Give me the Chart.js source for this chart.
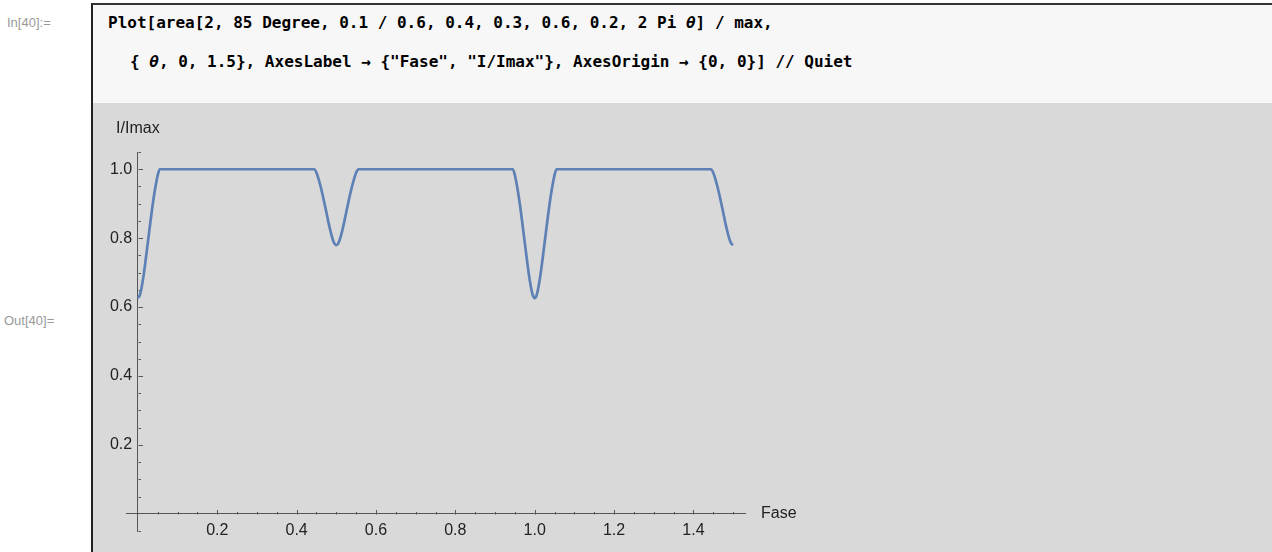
<!DOCTYPE html>
<html><head><meta charset="utf-8">
<script src="https://cdn.jsdelivr.net/npm/chart.js@4.4.1/dist/chart.umd.min.js"></script>
<style>
html,body{margin:0;padding:0;background:#fff;width:1272px;height:552px;overflow:hidden;position:relative;font-family:"Liberation Sans",Arial,sans-serif}
.lbl{position:absolute;color:#999;font-size:13px;line-height:16px;font-family:"Liberation Sans",Arial,sans-serif;white-space:pre}
#incell{position:absolute;left:91px;top:3px;width:1181px;height:100px;background:#f7f7f7;border-top:2px solid #333;border-left:2px solid #222;box-sizing:border-box}
#outcell{position:absolute;left:91px;top:103px;width:1181px;height:449px;background:#d9d9d9;border-left:2px solid #222;box-sizing:border-box}
.code{position:absolute;white-space:pre;font-family:"DejaVu Sans Mono",monospace;font-weight:bold;font-size:16px;line-height:20px;color:#000}
canvas{position:absolute;left:0;top:0}
</style></head>
<body>
<div class="lbl" style="left:7px;top:15px">In[40]:=</div>
<div id="incell"></div>
<div id="outcell"></div>
<div class="lbl" style="left:4px;top:313px">Out[40]=</div>
<div class="code" style="left:108px;top:13px">Plot[area[2, 85 Degree, 0.1 / 0.6, 0.4, 0.3, 0.6, 0.2, 2 Pi <i>θ</i>] / max,</div>
<div class="code" style="left:130px;top:52px">{ <i>θ</i>, 0, 1.5}, AxesLabel → {"Fase", "I/Imax"}, AxesOrigin → {0, 0}] // Quiet</div>
<canvas id="c" width="1272" height="552"></canvas>
<script>
const xTitle = "Fase";
const yTitle = "I/Imax";
const xMajor = [0.2, 0.4, 0.6, 0.8, 1.0, 1.2, 1.4];
const yMajor = [0.2, 0.4, 0.6, 0.8, 1.0];
const xMinor = [0.05, 0.1, 0.15, 0.25, 0.3, 0.35, 0.45, 0.5, 0.55, 0.65, 0.7, 0.75, 0.85, 0.9, 0.95, 1.05, 1.1, 1.15, 1.25, 1.3, 1.35, 1.45, 1.5];
const yMinor = [-0.05, 0.05, 0.1, 0.15, 0.25, 0.3, 0.35, 0.45, 0.5, 0.55, 0.65, 0.7, 0.75, 0.85, 0.9, 0.95, 1.05];

const phase = [
  0, 0.005, 0.01, 0.015, 0.02, 0.025, 0.03, 0.035, 0.04, 0.045, 0.05, 0.055, 0.057,
  0.443, 0.445, 0.45, 0.455, 0.46, 0.465, 0.47, 0.475, 0.48, 0.485, 0.49, 0.495, 0.5,
  0.505, 0.51, 0.515, 0.52, 0.525, 0.53, 0.535, 0.54, 0.545, 0.55, 0.555, 0.557,
  0.943, 0.945, 0.95, 0.955, 0.96, 0.965, 0.97, 0.975, 0.98, 0.985, 0.99, 0.995, 1.0,
  1.005, 1.01, 1.015, 1.02, 1.025, 1.03, 1.035, 1.04, 1.045, 1.05, 1.055, 1.057,
  1.443, 1.445, 1.45, 1.455, 1.46, 1.465, 1.47, 1.475, 1.48, 1.485, 1.49, 1.495, 1.5
];
const intensity = [
  0.626, 0.635, 0.661, 0.697, 0.741, 0.787, 0.833, 0.878, 0.919, 0.954, 0.983, 1.0, 1.0,
  1.0, 1.0, 0.990, 0.973, 0.952, 0.928, 0.902, 0.875, 0.847, 0.822, 0.800, 0.785, 0.780,
  0.785, 0.800, 0.822, 0.847, 0.875, 0.902, 0.928, 0.952, 0.973, 0.990, 1.0, 1.0,
  1.0, 1.0, 0.983, 0.954, 0.919, 0.878, 0.833, 0.787, 0.741, 0.697, 0.661, 0.635, 0.626,
  0.635, 0.661, 0.697, 0.741, 0.787, 0.833, 0.878, 0.919, 0.954, 0.983, 1.0, 1.0,
  1.0, 1.0, 0.990, 0.973, 0.952, 0.928, 0.902, 0.875, 0.847, 0.822, 0.800, 0.785, 0.780
];

const FONT = '"Liberation Sans", Arial, sans-serif';
const AXIS = '#555';

const axisDecor = {
  id: 'axisDecor',
  beforeDatasetsDraw(chart) {
    const {ctx, scales: {x, y}} = chart;
    const x0 = x.getPixelForValue(0), y0 = y.getPixelForValue(0);
    ctx.save();
    ctx.strokeStyle = AXIS;
    ctx.lineWidth = 1;
    ctx.beginPath();
    const ya = Math.round(y0) + 0.5, xa = Math.round(x0) + 0.5;
    xMajor.forEach(v => { const p = Math.round(x.getPixelForValue(v)) + 0.5; ctx.moveTo(p, ya); ctx.lineTo(p, ya - 4.5); });
    xMinor.forEach(v => { const p = Math.round(x.getPixelForValue(v)) + 0.5; ctx.moveTo(p, ya); ctx.lineTo(p, ya - 2.5); });
    yMajor.forEach(v => { const p = Math.round(y.getPixelForValue(v)) + 0.5; ctx.moveTo(xa, p); ctx.lineTo(xa + 4.5, p); });
    yMinor.forEach(v => { const p = Math.round(y.getPixelForValue(v)) + 0.5; ctx.moveTo(xa, p); ctx.lineTo(xa + 2.5, p); });
    ctx.stroke();
    ctx.fillStyle = '#222';
    ctx.font = '16px ' + FONT;
    ctx.textBaseline = 'middle';
    ctx.textAlign = 'left';
    ctx.fillText(xTitle, x.right + 16, y0);
    ctx.textAlign = 'center';
    ctx.fillText(yTitle, x0, y.top - 23);
    ctx.restore();
  }
};

new Chart(document.getElementById('c').getContext('2d'), {
  type: 'scatter',
  data: {
    datasets: [{
      data: phase.map((p, i) => ({x: p, y: intensity[i]})),
      showLine: true,
      borderColor: '#5e81b5',
      borderWidth: 2.7,
      pointRadius: 0,
      cubicInterpolationMode: 'monotone',
      fill: false
    }]
  },
  options: {
    responsive: false,
    animation: false,
    events: [],
    layout: {padding: {left: 126, right: 527, top: 152, bottom: 21}},
    plugins: {legend: {display: false}, tooltip: {enabled: false}},
    scales: {
      x: {
        type: 'linear', min: -0.03, max: 1.53, position: {y: 0},
        grid: {display: false, drawTicks: false, tickLength: 0},
        border: {display: true, color: AXIS, width: 1},
        afterBuildTicks: s => { s.ticks = xMajor.map(v => ({value: v})); },
        afterFit: s => { s.paddingLeft = 0; s.paddingRight = 0; },
        ticks: {font: {family: FONT, size: 16}, color: '#222', padding: 7, maxRotation: 0, autoSkip: false,
                callback: v => Number(v).toFixed(1)}
      },
      y: {
        type: 'linear', min: -0.05, max: 1.05, position: {x: 0},
        grid: {display: false, drawTicks: false, tickLength: 0},
        border: {display: true, color: AXIS, width: 1},
        afterBuildTicks: s => { s.ticks = yMajor.map(v => ({value: v})); },
        afterFit: s => { s.paddingTop = 0; s.paddingBottom = 0; },
        ticks: {font: {family: FONT, size: 16}, color: '#222', padding: 7, autoSkip: false,
                callback: v => Number(v).toFixed(1) + ' \u200A'}
      }
    }
  },
  plugins: [axisDecor]
});
</script>
</body></html>
